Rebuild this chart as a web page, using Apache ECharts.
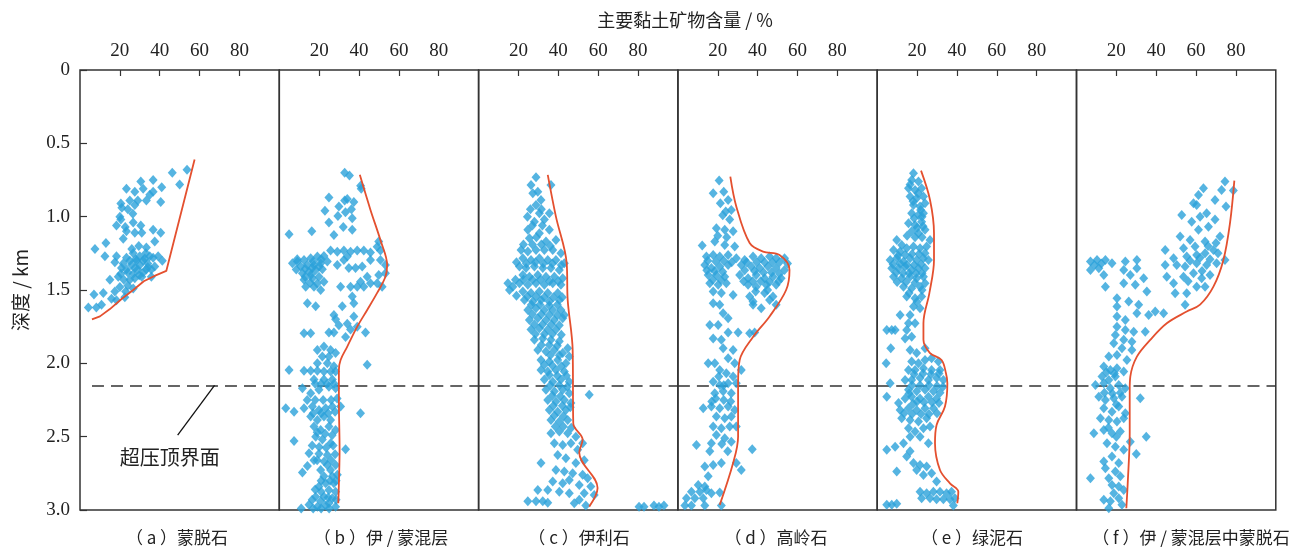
<!DOCTYPE html>
<html>
<head>
<meta charset="utf-8">
<script src="https://cdn.jsdelivr.net/npm/echarts@6/dist/echarts.min.js"></script>
<style>
  html, body { margin: 0; padding: 0; background: #fff; }
  #chart { width: 1294px; height: 550px; }
</style>
</head>
<body>
<div id="chart"></div>
<script>
// 标题 / 分图名
var mainTitle = "主要黏土矿物含量 / %";
var depthName = "深度 / km";
var captions = ["（ a ）蒙脱石", "（ b ）伊 / 蒙混层", "（ c ）伊利石", "（ d ）高岭石", "（ e ）绿泥石", "（ f ）伊 / 蒙混层中蒙脱石"];
var noteText = "超压顶界面";
var overpressureDepth = 2.15; // 超压顶界面深度 km

// (a) 蒙脱石  [含量%, 深度km]
var ptsA = [[53.7,0.68],[46.3,0.70],[50,0.78],[36.7,0.75],[30.5,0.76],[23.3,0.81],[31.7,0.81],[41,0.80],[27.5,0.83],[36.7,0.83],
  [35,0.85],[25,0.89],[29,0.89],[33.3,0.89],[40.5,0.90],[20.5,0.91],[21,0.94],[24,0.95],[27.5,0.92],[26.5,0.98],
  [20,1.0],[20.5,1.02],[26.7,1.04],[18.3,1.06],[22.7,1.07],[30.5,1.06],[36.7,1.09],[40.5,1.11],[23.3,1.10],[27.5,1.11],
  [21.7,1.15],[31,1.11],[13,1.18],[7.5,1.22],[12.5,1.27],[37.5,1.17],[18.3,1.27],[17.5,1.31],[23.3,1.28],[26.7,1.25],
  [30,1.27],[33.3,1.21],[36.7,1.28],[41.3,1.30],[21.7,1.32],[25.8,1.33],[30,1.33],[34,1.32],[37.5,1.34],[19.2,1.41],
  [23.3,1.36],[26.7,1.39],[31.7,1.38],[35.8,1.41],[15,1.43],[25,1.43],[20,1.48],[22.9,1.51],[26.7,1.49],[17.5,1.51],
  [11.7,1.52],[15.8,1.56],[18.3,1.57],[22.5,1.55],[7,1.53],[10.8,1.60],[4.2,1.62],[8.2,1.62],[25,1.30],[28.3,1.30],
  [31.7,1.30],[35,1.27],[39.2,1.27],[27.5,1.35],[33.3,1.36],[29.7,1.40],[24,1.47],[20.8,1.35],[35.8,1.36],
  [28,1.29],[32.5,1.285],[34,1.345],[29,1.36],[24,1.38],[27.5,1.42],[22,1.43],[20.5,1.39],[31,1.41],[33,1.25],[26,1.22],[29.5,1.2]];
var curveA = [[57.5,0.61],[43.3,1.37],[38,1.40],[32,1.44],[26.7,1.50],[21,1.56],[15,1.63],[10,1.68],[6,1.70]];

// (b) 伊/蒙混层
var ptsB = [[32.8,0.70],[35.2,0.72],[40.8,0.79],[41.1,0.81],[24.9,0.87],[34.1,0.88],[32.8,0.89],[37.4,0.90],
  [29.9,0.93],[22.9,0.96],[33.2,0.97],[36.2,0.95],[29.4,0.995],[36.6,1.01],[24.9,1.04],[32.1,1.07],[36.6,1.09],[27.4,1.125],[16.3,1.10],[4.9,1.12],
  [25.75,1.23],[29.1,1.24],[32.4,1.23],[35.75,1.24],[39.1,1.23],[42.4,1.23],[45.75,1.245],[50.75,1.23],[49.9,1.17],[49.1,1.205],
  [6.6,1.318],[9.1,1.306],[12.4,1.295],[15.75,1.284],[19.1,1.272],[22.4,1.268],[10.75,1.34],[14.1,1.33],[17.4,1.33],[20.75,1.318],
  [24.1,1.306],[11.6,1.386],[14.9,1.375],[18.25,1.363],[21.6,1.359],[12.4,1.43],[16.6,1.42],[19.9,1.41],[22.4,1.443],[13.25,1.477],
  [17.4,1.477],[20.75,1.5],[14.1,1.59],[18.25,1.61],[30.75,1.477],[31.6,1.61],[35.75,1.477],[36.6,1.545],[37.4,1.59],[34.9,1.35],
  [38.25,1.35],[41.6,1.34],[45.75,1.295],[50.75,1.295],[53.25,1.33],[44.1,1.41],[40.75,1.443],[45.75,1.454],[49.1,1.454],[51.6,1.477],
  [42.4,1.477],[39.1,1.477],[49.9,1.397],[53.25,1.386],[29.1,1.33],[32.4,1.295],[34.1,1.272],
  [8.5,1.36],[13,1.355],[16.5,1.35],[20,1.34],[13,1.41],[16,1.395],[9,1.29],[17,1.305],[21,1.29],[15.5,1.45],[19,1.455],
  [27.4,1.67],[28.25,1.70],[29.9,1.74],[34.1,1.73],[37.4,1.68],[35.75,1.77],[33.25,1.82],[39.1,1.75],[12.4,1.795],[15.75,1.795],
  [24.9,1.79],[27.4,1.79],[43.25,1.79],[19.1,1.909],[22.4,1.886],[25.75,1.909],[21.6,1.954],[24.9,1.954],[28.25,1.93],[19.1,2.0],
  [24.1,2.0],[27.4,2.02],[4.9,2.045],[12.4,2.05],[15.75,2.05],[19.1,2.05],[22.4,2.056],[25.75,2.056],[28.25,2.056],[44.1,2.01],
  [17.4,2.11],[22.4,2.11],[26.6,2.11],[18,2.14],[21,2.14],[24,2.14],[27.5,2.14],
  [11.6,2.17],[15.75,2.204],[19.9,2.18],[24.9,2.16],[28.25,2.17],[3.25,2.306],[7.4,2.33],[12.4,2.306],[16.6,2.295],[19.9,2.318],
  [23.25,2.306],[26.6,2.295],[30.75,2.295],[40.75,2.34],[15.75,2.363],[19.1,2.386],[22.4,2.363],[25.75,2.386],[17.4,2.43],[20.75,2.454],
  [24.9,2.43],[28.25,2.454],[7.4,2.53],[18.25,2.5],[21.6,2.52],[25.75,2.545],[33.25,2.586],[14.9,2.613],[19.9,2.617],[24.1,2.625],
  [17.4,2.66],[11.6,2.745],[14.1,2.70],[20.75,2.727],[24.1,2.693],[28.25,2.693],[25.75,2.727],[22.4,2.77],[26.6,2.77],[29.1,2.76],
  [23.25,2.818],[27.4,2.818],[19.9,2.84],[24.9,2.863],[28.25,2.875],[18.25,2.91],[22.4,2.91],[26.6,2.92],[14.9,2.965],[19.1,2.977],
  [23.25,2.97],[28.25,2.977],[20.75,2.94],[24.9,2.954],
  [14,2.25],[18,2.25],[22,2.25],[26,2.25],[29,2.24],[17,2.34],[21,2.34],[24.5,2.34],[28,2.33],[19,2.47],[23,2.48],[26.5,2.49],
  [16.5,2.56],[20,2.57],[23.5,2.575],[27,2.56],[19,2.66],[22.5,2.67],[26,2.66],[28,2.62],[21,2.8],[25.5,2.8],[28.5,2.8],
  [21,2.875],[18,2.86],[16.5,2.93],[24.5,2.915],[28.5,2.93],[17,2.99],[21,2.99],[25,2.99],[11,2.99]];
var curveB = [[40.4,0.715],[45.75,0.954],[50.75,1.16],[54.1,1.33],[53.25,1.41],[49.1,1.52],[44.1,1.636],[39.1,1.75],
  [34.1,1.886],[30.75,1.977],[29.9,2.045],[29.9,2.25],[30.25,2.59],[29.9,2.82],[29.6,2.954]];

// (c) 伊利石
var ptsC = [[28.8,0.731],[26.3,0.784],[36.3,0.784],[27.2,0.84],[29.7,0.83],[31.3,0.886],[28.8,0.92],[35.5,0.977],[30.5,0.977],[33,1.02],
  [28,1.034],[24.7,1.09],[35.5,1.09],[30.5,1.113],[38.8,1.159],[25.5,1.147],[33.8,1.17],
  [26,0.95],[31.5,0.95],[24.5,1.0],[27,1.06],[32,1.06],[29,1.14],
  [21.3,1.227],[24.7,1.238],[28.8,1.227],[33,1.227],[37.2,1.227],[41.3,1.25],[22.2,1.284],[26.3,1.295],[30.5,1.284],[34.7,1.295],
  [38.8,1.295],[43,1.318],[20.5,1.34],[23.8,1.35],[28,1.34],[32.2,1.35],[36.3,1.35],[40.5,1.363],[22.2,1.397],[25.5,1.41],
  [29.7,1.397],[33.8,1.41],[38,1.41],[42.2,1.42],[14.7,1.454],[17.2,1.477],[20.5,1.454],[24.7,1.465],[28.8,1.454],[33,1.465],
  [37.2,1.454],[41.3,1.465],[15.5,1.5],[22.2,1.51],[26.3,1.52],[30.5,1.51],[34.7,1.52],[39.7,1.52],[23,1.568],[27.2,1.579],
  [31.3,1.568],[35.5,1.579],[40.5,1.568],[24.7,1.636],[28.8,1.625],[33,1.636],[37.2,1.636],[41.3,1.636],[25.5,1.704],[29.7,1.693],
  [33.8,1.704],[38,1.704],[42.2,1.693],[26.3,1.77],[30.5,1.76],[34.7,1.77],[38.8,1.77],[28,1.84],[32.2,1.83],[36.3,1.84],
  [40.5,1.85],[44.7,1.897],[29.7,1.909],[33.8,1.92],[38,1.909],[42.2,1.93],[45.5,1.954],[31.3,1.977],[35.5,1.988],[39.7,1.977],
  [43.8,2.0],[31.3,2.045],[34.7,2.056],[38.8,2.045],[43,2.056],[33,2.11],[37.2,2.125],[41.3,2.11],[45.5,2.125],
  [22.5,1.19],[27,1.19],[31.5,1.19],[36,1.2],[19,1.31],[24,1.32],[28.5,1.31],[32.5,1.32],[37,1.32],[41.5,1.33],
  [18.5,1.43],[22.5,1.43],[27,1.43],[31,1.43],[35.5,1.44],[40,1.44],[19,1.54],[24.5,1.545],[28.8,1.545],[33,1.55],
  [37.5,1.55],[42,1.55],[26.5,1.6],[30.8,1.6],[35.5,1.605],[39.5,1.6],[27,1.665],[31.5,1.665],[35.5,1.67],[39.5,1.67],
  [43,1.67],[28,1.735],[32,1.735],[36.5,1.735],[40.5,1.74],[28.5,1.8],[33,1.8],[37,1.8],[41.5,1.805],[31.5,1.875],
  [35.5,1.875],[39.5,1.88],[36,1.945],[40.5,1.945],[33,2.01],[37,2.015],[41.5,2.02],[35.5,2.08],[39.5,2.085],[44,2.085],
  [36,2.15],[40.5,2.15],[44.5,2.16],[37,2.22],[41,2.225],[37.5,2.29],[42,2.29],[46,2.3],[38,2.355],[42.5,2.36],
  [38.5,2.43],[42.5,2.43],[46.5,2.44],
  [33.8,2.18],[38,2.19],[42.2,2.18],[45.5,2.204],[55.5,2.215],[34.7,2.25],[38.8,2.26],[43,2.25],[46.3,2.27],[35.5,2.318],
  [39.7,2.33],[43.8,2.318],[36.3,2.386],[40.5,2.397],[44.7,2.386],[36.3,2.477],[40.5,2.465],[44.7,2.477],[48.8,2.5],[52.2,2.545],
  [38,2.545],[42.2,2.556],[46.3,2.545],[49.7,2.59],[31.3,2.68],[39.7,2.625],[43.8,2.647],[48.8,2.68],[53,2.66],[38.8,2.727],
  [43,2.738],[47.2,2.75],[52.2,2.76],[54.7,2.784],[37.2,2.806],[42.2,2.818],[45.5,2.795],[50.5,2.83],[56.3,2.84],[29.7,2.863],
  [34.7,2.863],[40.5,2.875],[45.5,2.886],[53,2.886],[58,2.897],[24.7,2.94],[28.8,2.94],[32.2,2.94],[34.7,2.95],[48,2.954],
  [50.5,2.93],[53.8,2.97],[80.5,2.977],[83,2.977],[88,2.97],[90.5,2.977],[93,2.97]];
var curveC = [[34.7,0.715],[38.8,1.0],[44.2,1.318],[44.7,1.568],[47.2,1.91],[47.5,2.41],[52.2,2.52],[50.5,2.61],[59.7,2.85],[55.5,2.977]];

// (d) 高岭石
var ptsD = [[20.7,0.754],[17.7,0.84],[23,0.83],[21.3,0.909],[25.2,0.886],[24,0.965],[26.8,0.954],[26,1.02],[19.3,1.079],[23.5,1.09],
  [27.7,1.1],[12.2,1.197],[18.5,1.17],[23.5,1.193],[28.5,1.204],[22.5,0.99],[20,1.13],[24.5,1.14],
  [14.3,1.272],[17.7,1.261],[21,1.272],[25.2,1.261],[29.3,1.284],[33.5,1.295],[37.7,1.272],[41.8,1.284],[46,1.272],[49.3,1.284],
  [53.5,1.284],[13.5,1.33],[16.8,1.35],[21,1.34],[25.2,1.33],[31.8,1.33],[36.8,1.34],[41,1.35],[45.2,1.34],[49.3,1.35],
  [53.5,1.363],[15.2,1.397],[19.3,1.397],[23.5,1.41],[31,1.397],[35.2,1.42],[39.3,1.397],[43.5,1.42],[47.7,1.41],[51.8,1.42],
  [16,1.454],[20.2,1.465],[24.3,1.454],[35.2,1.465],[39.3,1.477],[44.3,1.465],[49.3,1.465],[17.7,1.51],[21.8,1.52],[27.7,1.534],
  [36,1.545],[43.5,1.52],[47.7,1.545],[17.7,1.59],[21,1.6],[37.7,1.579],[41.8,1.625],[46,1.568],[49.3,1.6],[22.7,1.659],
  [15,1.3],[19,1.305],[23,1.3],[27,1.31],[34.5,1.31],[39.5,1.31],[43.5,1.31],[47.5,1.31],[51,1.31],[14.5,1.365],
  [18.5,1.37],[22.5,1.375],[33.5,1.365],[38.5,1.37],[43,1.38],[47,1.38],[51,1.39],[55,1.32],[17.5,1.43],[21.5,1.43],
  [33,1.44],[37.5,1.44],[41.5,1.44],[46,1.445],[50.5,1.44],[39,1.51],[45,1.5],
  [25.2,1.693],[37.7,1.6],[16,1.738],[20.2,1.738],[25.2,1.79],[30.2,1.79],[36,1.795],[38.5,1.79],[17.7,1.83],[21.8,1.84],
  [22.7,1.897],[27.7,1.909],[15.2,2.0],[25.2,1.965],[28.5,2.0],[31.8,2.045],[21,2.045],[24.3,2.068],[27.7,2.09],[17.7,2.125],
  [21,2.147],[25.2,2.136],[29.3,2.136],[18.5,2.204],[22.7,2.19],[26.8,2.204],[12.7,2.306],[16.8,2.295],[21,2.306],[25.2,2.295],
  [19,2.24],[23,2.25],[26.5,2.26],[17,2.26],[20.5,2.09],[18.5,2.0],[23,2.15],[22,2.55],[25,2.6],
  [28.5,2.318],[19.3,2.363],[23.5,2.375],[26.8,2.363],[17.7,2.43],[21.8,2.443],[26,2.43],[29.3,2.43],[19.3,2.488],[23.5,2.51],
  [26.8,2.534],[9.3,2.556],[16.8,2.545],[37.3,2.586],[16,2.6],[29.3,2.68],[13.5,2.704],[17.7,2.693],[21.8,2.68],[31.8,2.727],
  [15.2,2.77],[10.2,2.83],[13.5,2.84],[6.8,2.875],[11,2.875],[14.3,2.863],[16.8,2.886],[21,2.88],[4.3,2.92],[8.5,2.92],
  [12.7,2.92],[3.5,2.97],[6.8,2.97],[13.5,2.97],[21.8,2.97]];
var curveD = [[26.3,0.727],[29.3,0.93],[36,1.18],[42.7,1.238],[51,1.261],[56,1.363],[54.3,1.5],[46,1.68],[37.7,1.82],
  [31,1.977],[30.2,2.136],[30.2,2.5],[27.7,2.68],[21,2.965]];

// (e) 绿泥石
var ptsE = [[18.2,0.704],[17.3,0.75],[20.7,0.761],[15.7,0.806],[19,0.818],[22.3,0.806],[16.5,0.863],[19.8,0.875],[23.2,0.863],[18.2,0.92],
  [21.5,0.931],[24,0.909],[17.3,0.977],[20.7,0.988],[23.2,0.977],[15.7,1.045],[19,1.056],[22.3,1.034],[17.3,1.1],[20.7,1.113],
  [24,1.09],[26.5,1.159],[9.8,1.159],[12.3,1.193],[8.2,1.227],[11.5,1.238],[14.8,1.215],[18.2,1.204],[21.5,1.215],[24.8,1.204],
  [6.5,1.295],[9.8,1.284],[13.2,1.306],[16.5,1.284],[19.8,1.295],[23.2,1.284],[25.7,1.295],[7.3,1.352],[10.7,1.352],[14,1.34],
  [17.3,1.363],[20.7,1.352],[24,1.352],[8.2,1.41],[12.3,1.42],[16.5,1.41],[19.8,1.42],[23.2,1.41],[13.2,1.477],[17.3,1.488],
  [21.5,1.477],[24,1.454],[14.8,1.545],[19,1.556],[22.3,1.545],[18.2,1.613],[21.5,1.625],[11.5,1.67],[16.5,1.67],[15.7,1.727],
  [16.5,0.78],[20.5,0.84],[18,0.895],[21.8,0.955],[18.5,1.01],[22.5,1.0],[20,1.075],[23,1.065],[15,1.13],[19,1.14],
  [22.5,1.14],[10.5,1.265],[14,1.26],[17.5,1.255],[21,1.255],[24,1.25],[8,1.325],[11.5,1.32],[15,1.33],[18.5,1.33],
  [22,1.325],[9.5,1.38],[13,1.385],[16,1.385],[19.5,1.385],[22.5,1.385],[10,1.445],[14.5,1.445],[19,1.45],[22.5,1.5],
  [16,1.52],[20,1.58],
  [19,1.727],[4.8,1.772],[7.3,1.772],[9,1.772],[14.8,1.772],[14,1.83],[17.3,1.818],[6.8,1.897],[24,1.897],[16.5,1.909],
  [19.8,1.93],[4.5,2.0],[17.3,1.988],[20.7,2.0],[24,1.977],[27.3,1.965],[30.7,1.988],[15.7,2.045],[19,2.045],[23.2,2.034],
  [27.3,2.045],[31.5,2.045],[14,2.113],[17.3,2.113],[21.5,2.1],[25.7,2.113],[29.8,2.1],[33.2,2.113],[6.5,2.136],[15.7,2.18],
  [18.5,2.075],[23,2.07],[27,2.075],[31,2.07],[17.5,2.15],[21.5,2.15],[26,2.15],[30,2.155],[33,2.16],[16,2.205],
  [20,2.26],[23.5,2.265],[27.5,2.265],[31,2.27],[18,2.275],[13.5,2.34],[17.5,2.345],[22,2.345],[26,2.345],[30,2.34],
  [19.8,2.19],[24,2.18],[28.2,2.19],[31.5,2.2],[4.8,2.227],[10.7,2.27],[14,2.24],[17.3,2.227],[21.5,2.24],[25.7,2.227],
  [29.8,2.24],[11.5,2.318],[15.7,2.306],[19.8,2.318],[24,2.306],[28.2,2.306],[12.3,2.375],[16.5,2.386],[20.7,2.397],[24.8,2.375],
  [15.7,2.443],[19,2.465],[23.2,2.443],[26.5,2.43],[16.5,2.5],[21.5,2.5],[25.7,2.545],[4.8,2.59],[9,2.568],[13.2,2.545],
  [16.5,2.6],[9.8,2.738],[14.8,2.636],[18.2,2.68],[21.5,2.693],[24.8,2.704],[19.8,2.727],[27.3,2.75],[23.2,2.761],[29.8,2.806],
  [21.5,2.875],[24.8,2.886],[28.2,2.875],[31.5,2.875],[34.8,2.886],[37.3,2.875],[22.3,2.92],[26.5,2.92],[29.8,2.927],[33.2,2.927],
  [36.5,2.927],[39,2.92],[4.8,2.965],[7.3,2.965],[9.8,2.958],[38.2,2.97]];
var curveE = [[22,0.686],[26.5,0.886],[28.5,1.113],[28.5,1.295],[26.2,1.52],[23.2,1.727],[23.2,1.84],[26.5,1.93],[32.3,1.977],
  [34.5,2.068],[35.2,2.136],[34,2.295],[29.8,2.42],[29,2.545],[31.5,2.727],[36.5,2.818],[40.7,2.875],[40.2,2.954]];

// (f) 伊/蒙混层中蒙脱石
var ptsF = [[74.5,0.76],[72.8,0.818],[78.7,0.822],[69.5,0.886],[75,0.931],[63.7,0.806],[61.2,0.852],[58.7,0.909],[60.3,0.92],[52.8,0.988],
  [57.8,1.034],[62,1.0],[65.3,0.977],[69.5,1.02],[61.2,1.09],[66.2,1.068],[72,1.136],[52,1.136],[57,1.159],[64.5,1.17],
  [53.7,1.215],[59.5,1.204],[44.5,1.227],[48.7,1.284],[55.3,1.272],[60.3,1.261],[64.5,1.25],[68.7,1.227],[74.5,1.295],[44.5,1.33],
  [50.3,1.33],[54.5,1.34],[60.3,1.318],[65.3,1.33],[70.3,1.318],[45.3,1.41],[48.7,1.454],[53.7,1.41],[58.7,1.386],[62.8,1.42],
  [67,1.397],[49.5,1.522],[55.3,1.522],[60.3,1.477],[64.5,1.477],[54.5,1.6],
  [66,1.2],[70,1.18],[62,1.28],[57,1.3],[67,1.29],[71,1.25],[63,1.37],[56,1.44],
  [7,1.306],[10.3,1.295],[14.5,1.295],[17.8,1.318],[7,1.363],[11.2,1.352],[13.7,1.397],[14.5,1.477],[24.5,1.306],[30.3,1.295],
  [9,1.33],[12.5,1.32],
  [23.7,1.363],[27,1.397],[30.3,1.352],[33.7,1.42],[23.7,1.454],[29.5,1.465],[35.3,1.51],[20.3,1.556],[26.2,1.579],[31.2,1.6],
  [20.3,1.613],[36.2,1.67],[39.5,1.647],[43.7,1.659],[30.3,1.659],[20.3,1.68],[24.5,1.704],[20.3,1.75],[24.5,1.772],[28.7,1.784],
  [34.5,1.784],[19.5,1.806],[23.7,1.84],[27.8,1.852],[18.7,1.863],[22.8,1.897],[27.8,1.909],[16.2,1.954],[20.3,1.943],[25.3,1.977],
  [13.7,2.022],[17,2.045],[20.3,2.034],[23.7,2.056],[12.8,2.09],[16.2,2.113],[19.5,2.09],[9.5,2.147],[13.7,2.136],[17,2.17],
  [14,2.2],[18,2.205],[22,2.2],[15,2.06],[19,2.07],[20,2.28],[16,2.44],[20,2.5],
  [21.2,2.147],[24.5,2.17],[32,2.238],[11.2,2.227],[14.5,2.25],[18.7,2.238],[22.8,2.227],[13.7,2.306],[17.8,2.33],[21.2,2.295],
  [24.5,2.34],[12,2.375],[16.2,2.386],[20.3,2.397],[23.7,2.375],[8.7,2.477],[13.7,2.454],[17.8,2.477],[22,2.465],[27,2.534],
  [35,2.5],[15.3,2.545],[19.5,2.568],[23.7,2.59],[30,2.618],[13.7,2.67],[17.8,2.636],[21.2,2.68],[14.5,2.715],[19.5,2.738],
  [7,2.784],[16.2,2.784],[22,2.77],[17.8,2.83],[21.2,2.84],[23.7,2.863],[18.7,2.886],[13.7,2.93],[17,2.94],[21.2,2.92],
  [16.2,2.988],[22.8,2.965]];
var curveF = [[79.2,0.754],[77,1.045],[73.7,1.295],[68.7,1.477],[62,1.6],[55.3,1.647],[45.3,1.727],[37,1.84],[30.3,1.954],
  [27,2.09],[26.7,2.18],[26.7,2.477],[25.7,2.818],[25,2.988]];

// 注记引线（分图 a 内，数据坐标）
var leader = [[67.5, 2.15], [49, 2.49]];
var notePos = [45, 2.64];

(function () {
  var myChart = echarts.init(document.querySelector("#chart"));
  var points = [ptsA, ptsB, ptsC, ptsD, ptsE, ptsF];
  var curves = [curveA, curveB, curveC, curveD, curveE, curveF];
  var smoothness = [false, 0.35, 0.35, 0.35, 0.35, 0.35]; // (a) 是折线
  var left0 = 80, w = 199.3, top = 70, h = 440;
  var captionX = [172, 376, 574, 771, 967, 1186]; // 分图名的中心位置
  var serif = "Liberation Serif";
  var cjk = "Noto Sans CJK SC";

  var grids = [], xAxes = [], yAxes = [], series = [];
  var titles = [{
    text: mainTitle,
    left: 680, top: 6, textAlign: "center",
    textStyle: { fontFamily: cjk, fontSize: 18, fontWeight: "normal", color: "#222" }
  }];

  for (var i = 0; i < 6; i++) {
    grids.push({
      left: left0 + i * w, top: top, width: w, height: h,
      show: true, borderColor: "#333", borderWidth: 1.5, backgroundColor: "transparent"
    });
    xAxes.push({
      gridIndex: i, type: "value", position: "top", min: 0, max: 100, interval: 20,
      axisLine: { show: false },
      axisTick: { inside: true, length: 6, lineStyle: { color: "#333", width: 1.2 } },
      axisLabel: {
        showMinLabel: false, showMaxLabel: false, margin: 9,
        fontFamily: serif, fontSize: 19, color: "#222"
      },
      splitLine: { show: false }
    });
    yAxes.push({
      gridIndex: i, type: "value", inverse: true, min: 0, max: 3, interval: 0.5,
      show: i === 0,
      name: i === 0 ? depthName : "",
      nameLocation: "middle", nameGap: 50, nameRotate: 90,
      nameTextStyle: { fontFamily: cjk, fontSize: 19, color: "#222" },
      axisLine: { show: false },
      axisTick: { inside: true, length: 7, lineStyle: { color: "#333", width: 1.2 } },
      axisLabel: {
        margin: 10, fontFamily: serif, fontSize: 19, color: "#222",
        formatter: function (v) { return v === 0 ? "0" : v.toFixed(1); }
      },
      splitLine: { show: false }
    });
    titles.push({
      text: captions[i],
      left: captionX[i], top: 524, textAlign: "center",
      textStyle: { fontFamily: cjk, fontSize: 17, fontWeight: "normal", color: "#222" }
    });

    var dash = i === 0
      ? [[{ coord: [6, overpressureDepth] }, { coord: [100, overpressureDepth] }]]
      : [{ yAxis: overpressureDepth }];
    if (i === 0) {
      dash.push([{ coord: leader[0] }, { coord: leader[1], lineStyle: { type: "solid", width: 1.3, color: "#111" } }]);
    }
    var scatter = {
      type: "scatter", xAxisIndex: i, yAxisIndex: i,
      symbol: "diamond", symbolSize: [9, 10],
      itemStyle: { color: "#2aa1da" },
      data: points[i], z: 2,
      markLine: {
        silent: true, symbol: ["none", "none"], label: { show: false },
        lineStyle: { type: [12, 7], color: "#333", width: 1.5 },
        data: dash, z: 1
      }
    };
    if (i === 0) {
      scatter.markPoint = {
        silent: true, symbol: "rect", symbolSize: 1,
        itemStyle: { color: "transparent" },
        label: {
          show: true, position: "inside", formatter: noteText,
          fontFamily: cjk, fontSize: 20, color: "#222"
        },
        data: [{ coord: notePos }]
      };
    }
    series.push(scatter);
    series.push({
      type: "line", xAxisIndex: i, yAxisIndex: i,
      data: curves[i], smooth: smoothness[i], showSymbol: false, z: 3,
      lineStyle: { color: "#e4502f", width: 1.8 }
    });
  }

  var option = {
    animation: false,
    backgroundColor: "#fff",
    title: titles,
    grid: grids,
    xAxis: xAxes,
    yAxis: yAxes,
    series: series
  };
  myChart.setOption(option);
})();
</script>
</body>
</html>
